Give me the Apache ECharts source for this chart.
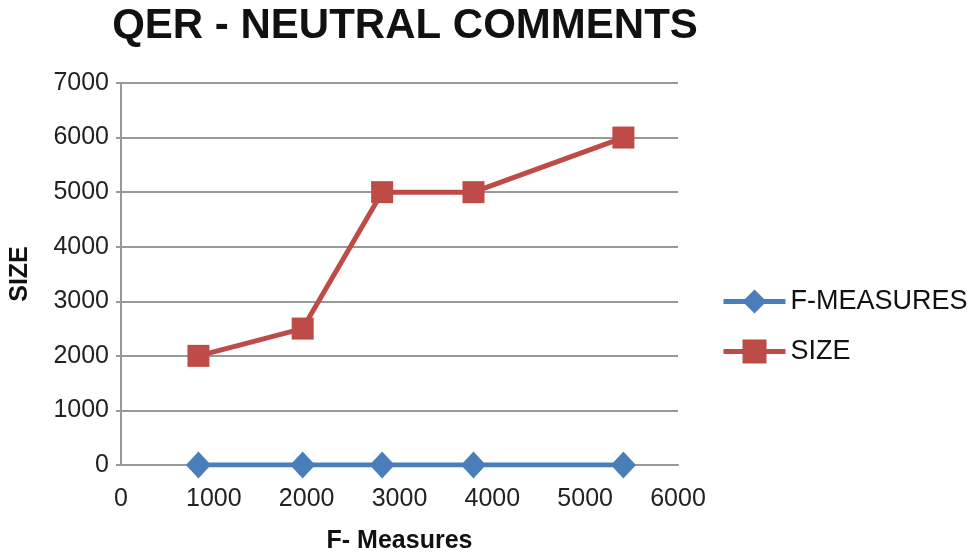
<!DOCTYPE html>
<html><head><meta charset="utf-8">
<script src="https://cdn.jsdelivr.net/npm/echarts@6/dist/echarts.min.js"></script>
<style>html,body{margin:0;padding:0;background:#fff}#c{width:975px;height:559px}</style>
</head><body><div id="c"></div>
<script>
const xValues = [834, 1957, 2813, 3797, 5412];
const fMeasures = [0, 0, 0, 0, 0];
const sizeValues = [2000, 2500, 5000, 5000, 6000];
const seriesNames = ['F-MEASURES', 'SIZE'];

const chart = echarts.init(document.getElementById('c'));
const font = 'Liberation Sans, Arial, sans-serif';
chart.setOption({
  animation: false,
  title: {
    text: 'QER - NEUTRAL COMMENTS', left: 400, top: 0, textAlign: 'center',
    textStyle: {fontFamily: font, fontSize: 42, fontWeight: 'bold', color: '#111'}
  },
  grid: {left: 115, right: 297, top: 83, bottom: 94},
  legend: {
    orient: 'vertical', left: 716, top: 283, itemWidth: 62, itemHeight: 30, itemGap: 23,
    textStyle: {fontFamily: font, fontSize: 27, color: '#111'},
    lineStyle: {width: 5},
    data: seriesNames
  },
  xAxis: {
    type: 'value', min: 0, max: 6000, interval: 1000,
    name: 'F- Measures', nameLocation: 'middle', nameGap: 64,
    nameTextStyle: {fontFamily: font, fontSize: 25, fontWeight: 'bold', color: '#111'},
    axisLine: {show: true, onZero: false, lineStyle: {color: '#999', width: 2}},
    axisTick: {show: false},
    splitLine: {show: false},
    axisLabel: {fontFamily: font, fontSize: 25, color: '#222', margin: 22, formatter: v => String(v)}
  },
  yAxis: {
    type: 'value', min: 0, max: 7000, interval: 1000,
    name: 'SIZE', nameLocation: 'middle', nameGap: 88,
    nameTextStyle: {fontFamily: font, fontSize: 25, fontWeight: 'bold', color: '#111'},
    axisLine: {show: true, lineStyle: {color: '#999', width: 2}},
    axisTick: {show: true, length: 5, lineStyle: {color: '#999', width: 2}},
    splitLine: {show: true, lineStyle: {color: '#999', width: 2}},
    axisLabel: {fontFamily: font, fontSize: 25, color: '#222', margin: 12, formatter: v => String(v)}
  },
  series: [
    {
      name: seriesNames[0], type: 'line', data: xValues.map((x, i) => [x, fMeasures[i]]),
      symbol: 'diamond', symbolSize: [25, 27],
      lineStyle: {color: '#4a7ebb', width: 5}, itemStyle: {color: '#4a7ebb'}, z: 3
    },
    {
      name: seriesNames[1], type: 'line', data: xValues.map((x, i) => [x, sizeValues[i]]),
      symbol: 'rect', symbolSize: 22,
      lineStyle: {color: '#be4b48', width: 5}, itemStyle: {color: '#be4b48'}, z: 2
    }
  ]
});
</script></body></html>
